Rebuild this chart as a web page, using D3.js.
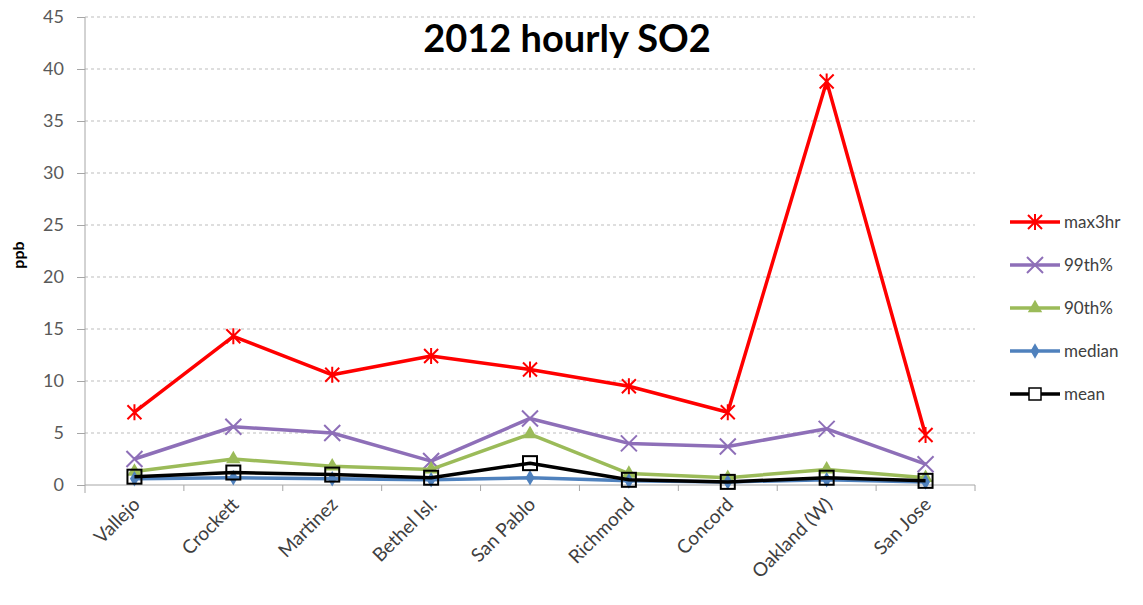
<!DOCTYPE html>
<html>
<head>
<meta charset="utf-8">
<script src="https://cdn.jsdelivr.net/npm/d3@7"></script>
<style>
  body { margin: 0; background: #fff; }
  text { font-family: Lato, "Open Sans", sans-serif; }
</style>
</head>
<body>
<div id="chart"></div>
<script>
var sites = ["Vallejo", "Crockett", "Martinez", "Bethel Isl.", "San Pablo", "Richmond", "Concord", "Oakland (W)", "San Jose"];
var max3hr = [7.0, 14.3, 10.6, 12.4, 11.1, 9.5, 7.0, 38.8, 4.8];
var p99 = [2.5, 5.6, 5.0, 2.3, 6.4, 4.0, 3.7, 5.4, 2.0];
var p90 = [1.3, 2.5, 1.8, 1.5, 4.9, 1.1, 0.7, 1.5, 0.7];
var median = [0.6, 0.7, 0.6, 0.5, 0.7, 0.4, 0.3, 0.5, 0.3];
var mean = [0.8, 1.2, 1.0, 0.7, 2.1, 0.5, 0.3, 0.7, 0.4];
var yTicks = [0, 5, 10, 15, 20, 25, 30, 35, 40, 45];

var series = [
  { name: "max3hr", values: max3hr, color: "#ff0000", marker: "star" },
  { name: "99th%", values: p99, color: "#8e6fb8", marker: "x" },
  { name: "90th%", values: p90, color: "#9bbb59", marker: "triangle" },
  { name: "median", values: median, color: "#4f81bd", marker: "diamond" },
  { name: "mean", values: mean, color: "#000000", marker: "square" }
];

var width = 1143, height = 605;
var margin = { top: 17, right: 168, bottom: 120, left: 85 };

var svg = d3.select("#chart").append("svg")
  .attr("width", width)
  .attr("height", height);

var x = d3.scaleBand()
  .domain(sites)
  .range([margin.left, width - margin.right]);

var y = d3.scaleLinear()
  .domain([0, 45])
  .range([height - margin.bottom, margin.top]);

function cx(d, i) { return x(sites[i]) + x.bandwidth() / 2; }

// gridlines
svg.append("g")
  .selectAll("line")
  .data(yTicks.filter(function(t) { return t > 0; }))
  .enter().append("line")
  .attr("x1", margin.left)
  .attr("x2", width - margin.right)
  .attr("y1", function(d) { return y(d); })
  .attr("y2", function(d) { return y(d); })
  .style("stroke", "#bdbdbd")
  .style("stroke-dasharray", "3,3");

// y axis
var yAxis = d3.axisLeft(y).tickValues(yTicks).tickSize(8).tickPadding(13);
var gy = svg.append("g")
  .attr("transform", "translate(" + margin.left + ",0)")
  .call(yAxis);
gy.select(".domain").style("stroke", "#a6a6a6").attr("d", "M0," + (y(0) + 8) + "V" + y(45));
gy.selectAll(".tick line").style("stroke", "#a6a6a6");
gy.selectAll(".tick text").style("font-size", "18px").style("fill", "#595959");

// x axis
var xAxis = d3.axisBottom(x).tickSize(0).tickFormat("");
var gx = svg.append("g")
  .attr("transform", "translate(0," + y(0) + ")")
  .call(xAxis);
gx.select(".domain").style("stroke", "#a6a6a6").attr("d", "M" + margin.left + ",0H" + (width - margin.right));
gx.selectAll(".bound")
  .data(sites)
  .enter().append("line")
  .attr("x1", function(d) { return x(d) + x.bandwidth(); })
  .attr("x2", function(d) { return x(d) + x.bandwidth(); })
  .attr("y1", 0)
  .attr("y2", 6)
  .style("stroke", "#a6a6a6");

svg.append("g")
  .selectAll("text")
  .data(sites)
  .enter().append("text")
  .attr("transform", function(d) {
    return "translate(" + (x(d) + x.bandwidth() / 2 + 2) + "," + (y(0) + 16) + ") rotate(-45)";
  })
  .attr("text-anchor", "end")
  .attr("dy", "0.35em")
  .style("font-size", "19px")
  .style("fill", "#404040")
  .text(function(d) { return d; });

// y label
svg.append("text")
  .attr("transform", "translate(24,255) rotate(-90)")
  .attr("text-anchor", "middle")
  .style("font-size", "16px")
  .style("font-weight", "bold")
  .text("ppb");

// title
svg.append("text")
  .attr("x", 567)
  .attr("y", 52)
  .attr("text-anchor", "middle")
  .style("font-size", "38px")
  .style("font-weight", "bold")
  .text("2012 hourly SO2");

function drawMarker(g, type, color) {
  if (type === "star") {
    g.append("path").attr("d", "M-7,-7L7,7M-7,7L7,-7M0,-8V8")
      .style("stroke", color).style("stroke-width", 2);
  } else if (type === "x") {
    g.append("path").attr("d", "M-8,-8L8,8M-8,8L8,-8")
      .style("stroke", color).style("stroke-width", 2);
  } else if (type === "triangle") {
    g.append("path").attr("d", d3.symbol().type(d3.symbolTriangle).size(90))
      .style("fill", color);
  } else if (type === "diamond") {
    g.append("path").attr("d", d3.symbol().type(d3.symbolDiamond).size(70))
      .style("fill", color);
  } else if (type === "square") {
    g.append("rect").attr("x", -7).attr("y", -7).attr("width", 14).attr("height", 14)
      .style("fill", "none").style("stroke", color).style("stroke-width", 2);
  }
}

var line = d3.line()
  .x(cx)
  .y(function(d) { return y(d); });

series.forEach(function(s) {
  svg.append("path")
    .datum(s.values)
    .attr("d", line)
    .style("fill", "none")
    .style("stroke", s.color)
    .style("stroke-width", 3.5)
    .style("stroke-linejoin", "round");

  svg.append("g").selectAll("g")
    .data(s.values)
    .enter().append("g")
    .attr("transform", function(d, i) { return "translate(" + cx(d, i) + "," + y(d) + ")"; })
    .each(function() { drawMarker(d3.select(this), s.marker, s.color); });
});

// legend
var legend = svg.append("g")
  .attr("transform", "translate(1010,222)");

var item = legend.selectAll("g")
  .data(series)
  .enter().append("g")
  .attr("transform", function(d, i) { return "translate(0," + (i * 43) + ")"; });

item.append("line")
  .attr("x1", 0).attr("x2", 50)
  .style("stroke", function(d) { return d.color; })
  .style("stroke-width", 3.5);

item.append("g")
  .attr("transform", "translate(25,0)")
  .each(function(d) {
    var g = d3.select(this);
    if (d.marker === "square") {
      g.append("rect").attr("x", -6).attr("y", -6).attr("width", 12).attr("height", 12)
        .style("fill", "#fff").style("stroke", d.color).style("stroke-width", 1.5);
    } else {
      drawMarker(g, d.marker, d.color);
    }
  });

item.append("text")
  .attr("x", 54)
  .attr("dy", "0.35em")
  .style("font-size", "17px")
  .style("fill", "#404040")
  .text(function(d) { return d.name; });
</script>
</body>
</html>
